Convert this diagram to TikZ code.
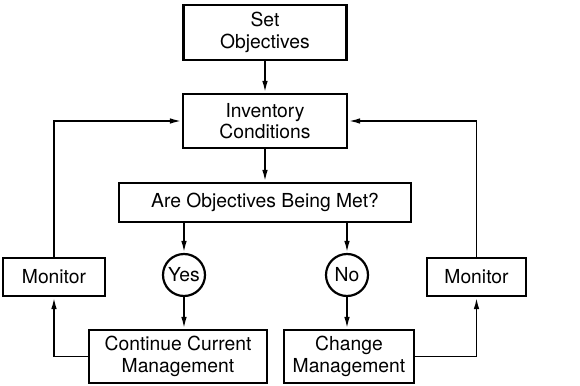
\documentclass[tikz,border=0pt]{standalone}
\usepackage{fontspec}
\setmainfont{TeX Gyre Heros}
\usetikzlibrary{arrows.meta}
\begin{document}
\begin{tikzpicture}[x=1pt,y=-1pt,
  box/.style={draw,line width=2.2pt,minimum width=#1,align=center,inner sep=0pt,
    font=\fontsize{19.3}{21.5}\selectfont},
  circ/.style={draw,circle,line width=2.2pt,minimum size=42pt,inner sep=0pt,
    font=\fontsize{19.3}{21.5}\selectfont},
  conn/.style={line width=1.9pt,-{Latex[length=12pt,width=5.5pt]}}]
\useasboundingbox (0,0) rectangle (580,385);
\node[box=163pt,minimum height=55pt] (setobj) at (265,32.5) {Set\\Objectives};
\node[box=164pt,minimum height=54pt] (inv) at (265,121) {Inventory\\Conditions};
\node[box=292pt,minimum height=39pt] (are) at (265,202.5) {Are Objectives Being Met?};
\node[circ] (yes) at (184,275) {Yes};
\node[circ] (no) at (347,275) {No};
\node[box=102pt,minimum height=38pt] (monL) at (54,277) {Monitor};
\node[box=99pt,minimum height=38pt] (monR) at (476.5,277) {Monitor};
\node[box=178pt,minimum height=53pt] (cont) at (178,356.5) {Continue Current\\Management};
\node[box=130pt,minimum height=53pt] (chg) at (349,356.5) {Change\\Management};
\draw[conn] (setobj.south) -- (inv.north);
\draw[conn] (inv.south) -- (are.north);
\draw[conn] (are.south -| yes) -- (yes.north);
\draw[conn] (yes.south) -- (yes.south |- cont.north);
\draw[conn] (are.south -| no) -- (no.north);
\draw[conn] (no.south) -- (no.south |- chg.north);
\draw[conn] (cont.west) -| (monL.south);
\draw[conn] (monL.north) |- (inv.west);
\draw[conn] (chg.east) -| (monR.south);
\draw[conn] (monR.north) |- (inv.east);
\end{tikzpicture}
\end{document}
